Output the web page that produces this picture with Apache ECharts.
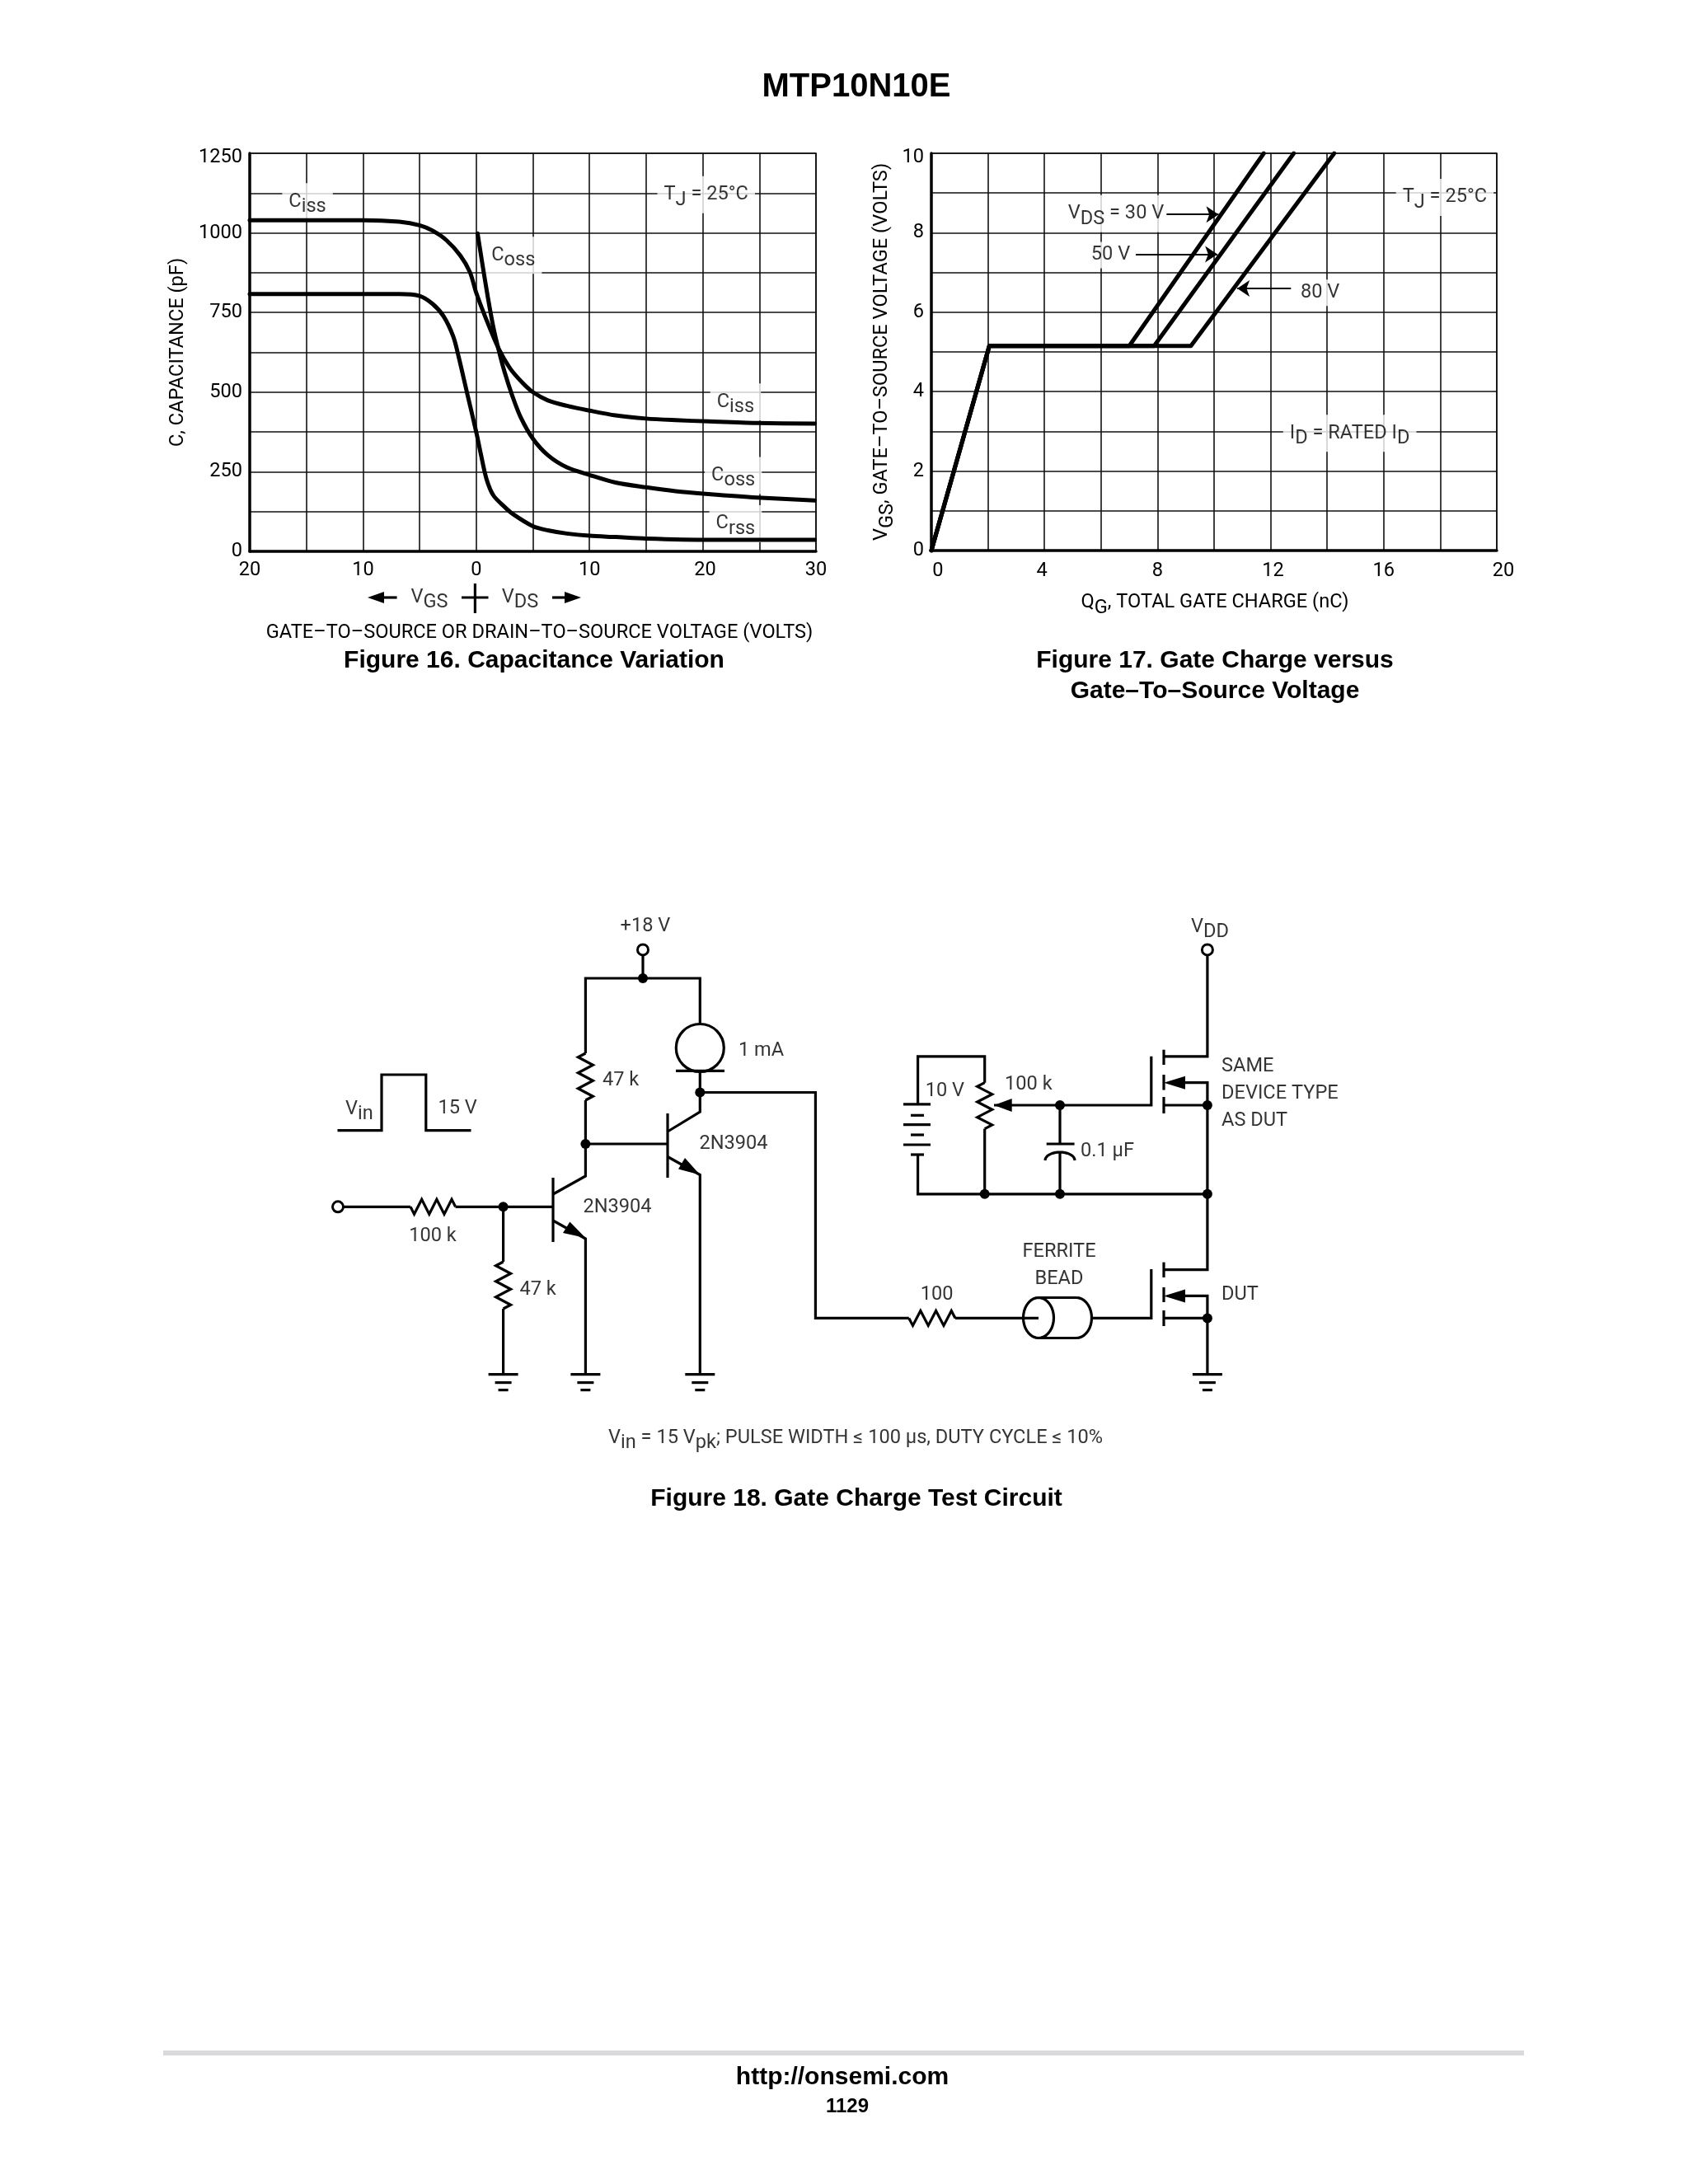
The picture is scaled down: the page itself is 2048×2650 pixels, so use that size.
<!DOCTYPE html>
<html>
<head>
<meta charset="utf-8">
<title>MTP10N10E</title>
<script src="https://cdn.jsdelivr.net/npm/echarts@6/dist/echarts.min.js"></script>
<style>
  html, body { margin: 0; padding: 0; background: #fff; }
  #chart { width: 2048px; height: 2650px; }
</style>
</head>
<body>
<div id="chart"></div>
<script>
// Figure 16 curves, [voltage, pF]. VGS side is negative on the axis
const cissCurve = [[-20, 1040], [-9.95, 1040], [-6.8, 1035], [-5, 1024], [-3.85, 1007], [-2.63, 977], [-1.41, 929], [-0.56, 877], [0, 812], [0.78, 738], [2, 635], [2.98, 575], [4.07, 530], [5, 500], [6.33, 474], [8, 457], [10, 442], [12.3, 427], [15, 417], [17.6, 412], [20.5, 408], [24.8, 403], [29.9, 401]]
const cossCurve = [[0.12, 998], [0.54, 903], [1.02, 799], [1.51, 704], [2, 630], [2.49, 565], [3.2, 487], [3.9, 423], [5, 354], [6.33, 302], [8, 264], [10, 240], [12.3, 216], [15, 201], [17.6, 189], [20.5, 180], [24.8, 169], [29.9, 160]]
const crssCurve = [[-20, 808], [-9.95, 808], [-6.8, 808], [-5, 802], [-3.85, 777], [-2.88, 738], [-2.02, 674], [-1.54, 609], [-0.8, 496], [0, 375], [0.41, 305], [0.9, 228], [1.51, 176], [2.49, 140], [3.2, 118], [5, 79], [6.33, 66], [8, 56], [10, 49], [12.3, 45], [15, 40], [20.5, 36], [29.9, 36]]

// Figure 17 curves, [nC, volts]
const vds30Curve = [[0, 0], [2.05, 5.15], [7, 5.15], [11.76, 10]]
const vds50Curve = [[0, 0], [2.05, 5.15], [7.88, 5.15], [12.82, 10]]
const vds80Curve = [[0, 0], [2.05, 5.15], [9.18, 5.15], [14.25, 10]]

// tick labels, the rich style nudges them to where the original has them
const fig16XLabels = { '-20': '20', '-10': '10', 0: '0', 10: '10', 20: '{right|20}', 30: '30' }
const fig16YLabels = { 0: '0', 250: '250', 500: '500', 750: '750', 1000: '1000', 1250: '{top|1250}' }
const fig17XLabels = { 0: '{farRight|0}', 4: '{left|4}', 8: '8', 12: '{right|12}', 16: '16', 20: '{farRight|20}' }
const fig17YLabels = { 0: '0', 2: '2', 4: '4', 6: '6', 8: '8', 10: '{top|10}' }

// text on the plots: x, y, text, align
const fig16Notes = [
  [-14.9, 1098, 'C{s|iss}', 'center'],
  [20.3, 1120, 'T{s|J} = 25°C', 'center'],
  [3.27, 930, 'C{s|oss}', 'center'],
  [22.9, 469, 'C{s|iss}', 'center'],
  [22.7, 238, 'C{s|oss}', 'center'],
  [22.9, 87, 'C{s|rss}', 'center']
]
const fig17Notes = [
  [18.16, 8.89, 'T{s|J} = 25°C', 'center'],
  [6.53, 8.48, 'V{s|DS} = 30 V', 'center'],
  [6.34, 7.44, '50 V', 'center'],
  [13.75, 6.49, '80 V', 'center'],
  [14.8, 2.95, 'I{s|D} = RATED I{s|D}', 'center']
]
// leader arrows of figure 17: from, to
const fig17Arrows = [
  [[8.32, 8.46], [10.16, 8.46]],
  [[7.23, 7.46], [10.12, 7.46]],
  [[12.72, 6.6], [10.82, 6.6]]
]

// Figure 18 schematic, in page units
const wires = [
  // supply rail, left and right branches
  [[780, 1159], [780, 1187]],
  [[710.4, 1278], [710.4, 1187], [849.3, 1187], [849.3, 1242]],
  [[710.4, 1335], [710.4, 1427], [671, 1449]],
  [[710.4, 1388], [810, 1388]],
  [[849.3, 1299], [849.3, 1349], [810, 1373]],
  [[820, 1299.4], [879, 1299.4]],
  [[849.3, 1325.5], [989.4, 1325.5], [989.4, 1599.4], [1102.8, 1599.4]],
  [[810, 1351], [810, 1429]],
  [[810, 1403.5], [849.3, 1425.5], [849.3, 1667.6]],
  // first transistor and input
  [[417, 1464.3], [498, 1464.3]],
  [[552.6, 1464.3], [671, 1464.3]],
  [[671, 1429], [671, 1507]],
  [[671, 1481], [710.4, 1503], [710.4, 1667.6]],
  [[610.6, 1464.3], [610.6, 1531]],
  [[610.6, 1588], [610.6, 1667.6]],
  // input pulse
  [[409.5, 1371.6], [463, 1371.6], [463, 1304], [516.8, 1304], [516.8, 1371.6], [571.5, 1371.6]],
  // upper mosfet
  [[1464.9, 1159], [1464.9, 1281.8], [1412, 1281.8]],
  [[1412, 1273.7], [1412, 1292]],
  [[1412, 1304], [1412, 1322.6]],
  [[1412, 1331], [1412, 1351]],
  [[1396.8, 1281.8], [1396.8, 1341], [1206, 1341]],
  [[1412, 1341], [1464.9, 1341]],
  [[1438, 1313.7], [1464.9, 1313.7], [1464.9, 1540.6], [1412, 1540.6]],
  // battery and pot
  [[1194.7, 1313.7], [1194.7, 1281.8], [1113.6, 1281.8], [1113.6, 1339.8]],
  [[1096, 1339.8], [1129, 1339.8]],
  [[1105, 1353.3], [1121, 1353.3]],
  [[1096, 1364.7], [1129, 1364.7]],
  [[1105, 1377], [1121, 1377]],
  [[1096, 1389], [1129, 1389]],
  [[1105, 1401], [1121, 1401]],
  [[1113.6, 1401], [1113.6, 1448.8], [1464.9, 1448.8]],
  [[1194.7, 1369.6], [1194.7, 1448.8]],
  // capacitor
  [[1286, 1341], [1286, 1388]],
  [[1269.7, 1388], [1303.6, 1388]],
  [[1286, 1397], [1286, 1448.8]],
  // lower mosfet
  [[1412, 1531.6], [1412, 1550]],
  [[1412, 1562], [1412, 1580]],
  [[1412, 1590], [1412, 1609]],
  [[1396.8, 1540], [1396.8, 1599.4], [1324, 1599.4]],
  [[1412, 1599.4], [1464.9, 1599.4]],
  [[1438, 1572.4], [1464.9, 1572.4], [1464.9, 1667.6]],
  [[1159, 1599.4], [1260, 1599.4]],
  // ferrite bead body
  [[1260, 1574.5], [1306, 1574.5]],
  [[1260, 1623.5], [1306, 1623.5]],
  // VGS / VDS cross under figure 16
  [[576.4, 708], [576.4, 744]],
  [[560, 725], [592.5, 725]],
  [[462, 725], [481.6, 725]],
  [[670, 725], [690, 725]]
]
// zig-zag resistors: from, to
const resistors = [
  [[710.4, 1278], [710.4, 1335]],
  [[610.6, 1531], [610.6, 1588]],
  [[498, 1464.3], [552.6, 1464.3]],
  [[1102.8, 1599.4], [1159, 1599.4]],
  [[1194.7, 1313.7], [1194.7, 1369.6]]
]
// curved pieces: cx, cy, rx, ry, start degrees, end degrees
const arcs = [
  [1260, 1599, 18.5, 24.5, 0, 360],
  [1306, 1599, 18.5, 24.5, -90, 90],
  [1286, 1408, 18, 10, 180, 360]
]
const arrowHeads = [
  [[710.4, 1502], [691.4, 1482.6], [683, 1496]],
  [[849.3, 1425.5], [831, 1405], [823, 1418.6]],
  [[1206, 1341], [1227.7, 1333], [1227.7, 1349]],
  [[1412, 1313.7], [1438, 1305.7], [1438, 1321.7]],
  [[1412, 1572.4], [1438, 1564.4], [1438, 1580.4]],
  [[446, 725], [466, 718], [466, 732]],
  [[705, 725], [685, 718], [685, 732]]
]
const junctions = [[780, 1187], [710.4, 1388], [849.3, 1325.5], [610.6, 1464.3], [1286, 1341], [1464.9, 1341], [1194.7, 1448.8], [1286, 1448.8], [1464.9, 1448.8], [1464.9, 1599.4]]
const terminals = [[780, 1152.4], [410, 1464.3], [1464.9, 1152.4]]
const grounds = [[610.6, 1667.6], [710.4, 1667.6], [849.3, 1667.6], [1464.9, 1667.6]]
const circuitNotes = [
  [783, 1124, '+18 V', 'center'],
  [896, 1275, '1 mA', 'left'],
  [731, 1311, '47 k', 'left'],
  [419, 1346, 'V{s|in}', 'left'],
  [531.5, 1345, '15 V', 'left'],
  [848.4, 1388, '2N3904', 'left'],
  [707.4, 1465, '2N3904', 'left'],
  [525, 1500, '100 k', 'center'],
  [630.4, 1565, '47 k', 'left'],
  [1445, 1125, 'V{s|DD}', 'left'],
  [1219, 1316, '100 k', 'left'],
  [1122.7, 1324, '10 V', 'left'],
  [1311, 1397, '0.1 µF', 'left'],
  [1482, 1294, 'SAME', 'left'],
  [1482, 1327, 'DEVICE TYPE', 'left'],
  [1482, 1360.4, 'AS DUT', 'left'],
  [1285, 1519, 'FERRITE', 'center'],
  [1285, 1552, 'BEAD', 'center'],
  [1136.6, 1571, '100', 'center'],
  [1482, 1571, 'DUT', 'left'],
  [1038, 1745, 'V{s|in} = 15 V{s|pk}; PULSE WIDTH ≤ 100 µs, DUTY CYCLE ≤ 10%', 'center'],
  [521, 725, 'V{s|GS}', 'center'],
  [631, 725, 'V{s|DS}', 'center']
]

const narrow = 'Roboto, "Liberation Sans", sans-serif'
const bold = '"Liberation Sans", Arial, sans-serif'
const ink = '#000'
const textSize = 23.6
const richText = {
  s: { fontFamily: narrow, fontSize: textSize, color: ink, padding: [13, 0, 0, 0] }
}
const tickRich = {
  top: { fontFamily: narrow, fontSize: textSize, color: ink, padding: [10, 0, 0, 0] },
  left: { fontFamily: narrow, fontSize: textSize, color: ink, padding: [0, 6, 0, 0] },
  right: { fontFamily: narrow, fontSize: textSize, color: ink, padding: [0, 0, 0, 6] },
  farRight: { fontFamily: narrow, fontSize: textSize, color: ink, padding: [0, 0, 0, 16] }
}

const zigzag = (from, to) => {
  const teeth = 6
  const pts = [from]
  const dx = to[0] - from[0]
  const dy = to[1] - from[1]
  const len = Math.hypot(dx, dy)
  for (let i = 0; i < teeth; i++) {
    const t = (i + 0.5) / teeth
    const side = i % 2 === 0 ? 9 : -9
    pts.push([from[0] + dx * t - dy / len * side, from[1] + dy * t + dx / len * side])
  }
  pts.push(to)
  return pts
}

const arcPoints = ([cx, cy, rx, ry, start, end]) => {
  const pts = []
  for (let a = start; a <= end; a += 10) {
    const r = a * Math.PI / 180
    pts.push([cx + rx * Math.cos(r), cy + ry * Math.sin(r)])
  }
  return pts
}

const groundBars = ([x, y]) => [
  [[x - 18, y], [x + 18, y]],
  [[x - 10, y + 10], [x + 10, y + 10]],
  [[x - 6, y + 19], [x + 6, y + 19]]
]

// line series for one measured curve
const curveSeries = (name, data, axisIndex, smooth) => ({
  name,
  type: 'line',
  xAxisIndex: axisIndex,
  yAxisIndex: axisIndex,
  data,
  smooth,
  showSymbol: false,
  lineStyle: { color: ink, width: 5, cap: 'round', join: 'round' },
  z: 5
})

// invisible points that only carry text
const noteSeries = (name, notes, axisIndex, background) => ({
  name,
  type: 'scatter',
  xAxisIndex: axisIndex,
  yAxisIndex: axisIndex,
  symbolSize: 0,
  silent: true,
  z: 4,
  data: notes.map(([x, y, text, align]) => ({
    value: [x, y],
    label: { formatter: text, align }
  })),
  label: {
    show: true,
    position: 'inside',
    fontFamily: narrow,
    fontSize: textSize,
    color: ink,
    backgroundColor: background,
    padding: background ? [4, 8] : 0,
    rich: richText
  }
})

const valueAxis = (gridIndex, min, max, interval, labels, margin, extra) => ({
  type: 'value',
  gridIndex,
  min,
  max,
  interval,
  axisLine: { show: true, onZero: false, lineStyle: { color: ink, width: 3.5 } },
  axisTick: { show: false },
  splitLine: { show: true, lineStyle: { color: '#111', width: 1.6 } },
  axisLabel: {
    fontFamily: narrow,
    fontSize: textSize,
    color: ink,
    margin,
    rich: tickRich,
    formatter: v => labels[v] || ''
  },
  nameLocation: 'middle',
  nameTextStyle: { fontFamily: narrow, fontSize: textSize, color: ink, rich: richText },
  ...extra
})

const captionTitle = (text, x, y, size) => ({
  text,
  left: x,
  top: y - size / 2,
  textAlign: 'center',
  textStyle: { fontFamily: bold, fontWeight: 'bold', fontSize: size, color: ink, lineHeight: size }
})

const option = {
  animation: false,
  backgroundColor: '#fff',
  title: [
    captionTitle('MTP10N10E', 1034, 101, 40),
    captionTitle('Figure 16. Capacitance Variation', 643, 797, 30),
    captionTitle('Figure 17. Gate Charge versus', 1469, 797, 30),
    captionTitle('Gate–To–Source Voltage', 1469, 834, 30),
    captionTitle('Figure 18. Gate Charge Test Circuit', 1034, 1814, 30),
    captionTitle('http://onsemi.com', 1017, 2516, 30),
    captionTitle('1129', 1023, 2551, 24)
  ],
  grid: [
    { left: 303, top: 186, width: 687, height: 483, show: true, borderColor: '#111', borderWidth: 1.6, backgroundColor: 'transparent' },
    { left: 1130, top: 186, width: 686, height: 482, show: true, borderColor: '#111', borderWidth: 1.6, backgroundColor: 'transparent' },
    { left: 0, top: 0, width: 2048, height: 2650 }
  ],
  xAxis: [
    valueAxis(0, -20, 30, 5, fig16XLabels, 11, {
      name: 'GATE–TO–SOURCE OR DRAIN–TO–SOURCE VOLTAGE (VOLTS)',
      nameGap: 87,
      nameTextStyle: { fontFamily: narrow, fontSize: textSize, color: ink, padding: [0, 0, 0, 16] }
    }),
    valueAxis(1, 0, 20, 2, fig17XLabels, 13, {
      name: 'Q{s|G}, TOTAL GATE CHARGE (nC)',
      nameGap: 45,
      nameTextStyle: { fontFamily: narrow, fontSize: textSize, color: ink, rich: richText, padding: [0, 0, 0, 2] }
    }),
    { type: 'value', gridIndex: 2, min: 0, max: 2048, show: false }
  ],
  yAxis: [
    valueAxis(0, 0, 1250, 125, fig16YLabels, 9, {
      name: 'C, CAPACITANCE (pF)',
      nameGap: 75
    }),
    valueAxis(1, 0, 10, 1, fig17YLabels, 9, {
      name: 'V{s|GS}, GATE–TO–SOURCE VOLTAGE (VOLTS)',
      nameGap: 41
    }),
    { type: 'value', gridIndex: 2, min: 0, max: 2650, inverse: true, show: false }
  ],
  series: [
    curveSeries('Ciss', cissCurve, 0, 0.3),
    curveSeries('Coss', cossCurve, 0, 0.3),
    curveSeries('Crss', crssCurve, 0, 0.3),
    curveSeries('VDS = 30 V', vds30Curve, 1, false),
    curveSeries('VDS = 50 V', vds50Curve, 1, false),
    curveSeries('VDS = 80 V', vds80Curve, 1, false),
    noteSeries('fig16 notes', fig16Notes, 0, '#fff'),
    {
      ...noteSeries('fig17 notes', fig17Notes, 1, '#fff'),
      markLine: {
        silent: true,
        symbol: ['none', 'arrow'],
        symbolSize: 15,
        label: { show: false },
        lineStyle: { color: ink, width: 2, type: 'solid' },
        data: fig17Arrows.map(([from, to]) => [{ coord: from }, { coord: to }])
      }
    },
    noteSeries('circuit notes', circuitNotes, 2, null),
    {
      name: 'circuit',
      type: 'custom',
      xAxisIndex: 2,
      yAxisIndex: 2,
      coordinateSystem: 'cartesian2d',
      silent: true,
      clip: false,
      z: 3,
      data: [[0, 0]],
      renderItem: (params, api) => {
        const toPx = pts => pts.map(p => api.coord(p))
        const line = pts => ({
          type: 'polyline',
          shape: { points: toPx(pts) },
          style: { stroke: ink, lineWidth: 3.2, fill: null, lineJoin: 'miter' }
        })
        const paths = [
          ...wires,
          ...resistors.map(([from, to]) => zigzag(from, to)),
          ...arcs.map(arcPoints),
          ...grounds.flatMap(groundBars)
        ]
        const heads = arrowHeads.map(pts => ({
          type: 'polygon',
          shape: { points: toPx(pts) },
          style: { fill: ink }
        }))
        const dots = junctions.map(p => {
          const [cx, cy] = api.coord(p)
          return { type: 'circle', shape: { cx, cy, r: 6 }, style: { fill: ink } }
        })
        const opens = terminals.map(p => {
          const [cx, cy] = api.coord(p)
          return { type: 'circle', shape: { cx, cy, r: 6.5 }, style: { fill: '#fff', stroke: ink, lineWidth: 3 } }
        })
        const [mx, my] = api.coord([849.3, 1271.5])
        const meter = { type: 'circle', shape: { cx: mx, cy: my, r: 29 }, style: { fill: '#fff', stroke: ink, lineWidth: 3.2 } }
        const rule = {
          type: 'line',
          shape: { x1: api.coord([198, 0])[0], y1: api.coord([0, 2491])[1], x2: api.coord([1849, 0])[0], y2: api.coord([0, 2491])[1] },
          style: { stroke: '#d9d9dc', lineWidth: 6 }
        }
        return { type: 'group', children: [meter, ...paths.map(line), ...heads, ...dots, ...opens, rule] }
      }
    }
  ]
}

const chart = echarts.init(document.getElementById('chart'))
chart.setOption(option)
</script>
</body>
</html>
